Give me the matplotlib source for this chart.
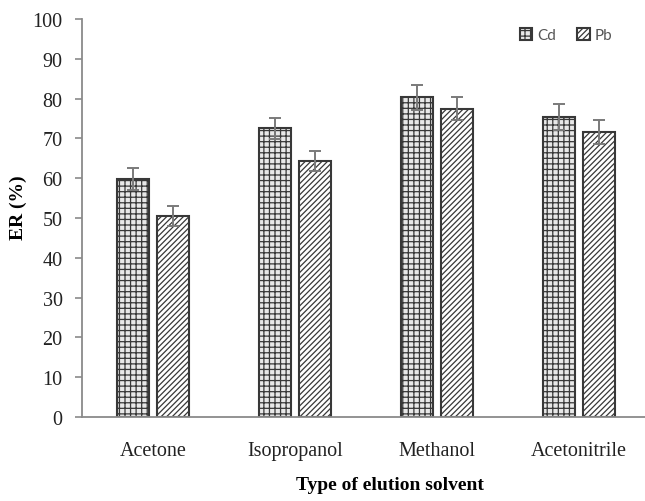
import numpy as np
import matplotlib
matplotlib.use('Agg')
import matplotlib.pyplot as plt

SOLVENTS = ['Acetone', 'Isopropanol', 'Methanol', 'Acetonitrile']
CD       = [59.8, 72.5, 80.3, 75.3]
CD_ERR   = [2.8, 2.6, 3.2, 3.3]
PB       = [50.5, 64.4, 77.5, 71.7]
PB_ERR   = [2.5, 2.5, 3.0, 3.0]

plt.rcParams['hatch.linewidth'] = 0.9
plt.rcParams['hatch.color'] = '#4a4a4a'

fig = plt.figure(figsize=(6.45, 5.02), dpi=100)
# plot area runs slightly past the right edge of the figure
ax = fig.add_axes([82 / 645, 84 / 502, 568 / 645, 398 / 502])

x = np.arange(len(SOLVENTS))
w = 0.232
off = 0.141
err_kw = dict(ecolor='#7a7a7a', elinewidth=1.4, capsize=4.5, capthick=1.4)

ax.bar(x - off, CD, w, yerr=CD_ERR, color='#e8e8e8', edgecolor='#383838',
       linewidth=1.5, hatch='+++', label='Cd', error_kw=err_kw)
ax.bar(x + off, PB, w, yerr=PB_ERR, color='white', edgecolor='#383838',
       linewidth=1.5, hatch='//////', label='Pb', error_kw=err_kw)

ax.set_xlim(-0.5, 3.5)
ax.set_ylim(0, 100)
ax.set_yticks(range(0, 101, 10))
ax.set_xticks(x)
ax.set_xticklabels(SOLVENTS)

for side in ('top', 'right'):
    ax.spines[side].set_visible(False)
for side in ('left', 'bottom'):
    ax.spines[side].set_color('#8a8a8a')
    ax.spines[side].set_linewidth(1.3)

ax.tick_params(axis='y', direction='out', length=5, width=1.2, color='#8a8a8a', pad=9)
ax.tick_params(axis='x', length=0, pad=17)
for lbl in ax.get_xticklabels() + ax.get_yticklabels():
    lbl.set_family('Liberation Serif')
    lbl.set_fontsize(14.5)
    lbl.set_color('#222222')

fig.text(18 / 645, 1 - 208 / 502, 'ER (%)', rotation=90, ha='center', va='center',
         family='Liberation Serif', fontweight='bold', fontsize=14)
fig.text(390 / 645, 1 - 486 / 502, 'Type of elution solvent', ha='center', va='center',
         family='Liberation Serif', fontweight='bold', fontsize=14)

fig.legend(loc='center', bbox_to_anchor=(566 / 645, 1 - 36 / 502), ncol=2, frameon=False,
           prop={'family': 'Lato', 'size': 11}, labelcolor='#555555',
           handlelength=0.8, handleheight=0.9, handletextpad=0.3, columnspacing=1.4)

fig.savefig('out.png', dpi=100)
